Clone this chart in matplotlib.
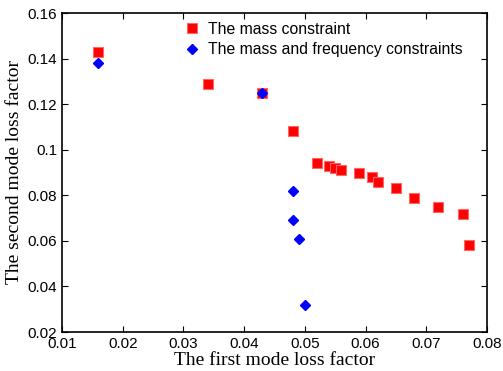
import matplotlib
matplotlib.use("Agg")
import matplotlib.pyplot as plt

mass_x = [0.016, 0.034, 0.043, 0.048, 0.052, 0.054, 0.055, 0.056, 0.059, 0.061, 0.062, 0.065, 0.068, 0.072, 0.076, 0.077]
mass_y = [0.143, 0.129, 0.125, 0.108, 0.094, 0.093, 0.092, 0.091, 0.090, 0.088, 0.086, 0.083, 0.079, 0.075, 0.072, 0.058]
freq_x = [0.016, 0.043, 0.048, 0.048, 0.049, 0.050]
freq_y = [0.138, 0.125, 0.082, 0.069, 0.061, 0.032]

xticks = [0.01, 0.02, 0.03, 0.04, 0.05, 0.06, 0.07, 0.08]
yticks = [0.02, 0.04, 0.06, 0.08, 0.1, 0.12, 0.14, 0.16]
xticklabels = ['0.01', '0.02', '0.03', '0.04', '0.05', '0.06', '0.07', '0.08']
yticklabels = ['0.02', '0.04', '0.06', '0.08', '0.1', '0.12', '0.14', '0.16']

fig = plt.figure(figsize=(5.03, 3.71), dpi=100)
ax = fig.add_axes([62/503, 1-332/371, 425/503, 319/371])

ax.plot(mass_x, mass_y, linestyle='none', marker='s', markersize=6.5,
        markerfacecolor='#ff0000', markeredgecolor='#ff6666', markeredgewidth=0.8,
        label='The mass constraint')
ax.plot(freq_x, freq_y, linestyle='none', marker='D', markersize=5,
        markerfacecolor='#0000ff', markeredgecolor='#0000ff',
        label='The mass and frequency constraints')

ax.set_xlim(0.01, 0.08)
ax.set_ylim(0.02, 0.16)
ax.set_xticks(xticks)
ax.set_xticklabels(xticklabels)
ax.set_yticks(yticks)
ax.set_yticklabels(yticklabels)
ax.tick_params(direction='in', top=True, right=True, length=4, width=0.8,
               labelsize=11)
for lab in ax.get_xticklabels() + ax.get_yticklabels():
    lab.set_fontfamily('Liberation Sans')
for s in ax.spines.values():
    s.set_linewidth(1.2)

ax.set_xlabel('The first mode loss factor', fontfamily='Liberation Serif',
              fontsize=14, labelpad=1)
ax.set_ylabel('The second mode loss factor', fontfamily='Liberation Serif',
              fontsize=14, labelpad=3)

leg = ax.legend(loc='upper left', bbox_to_anchor=(0.268, 1.0), frameon=False,
                prop={'family': 'Liberation Sans', 'size': 11.3},
                handlelength=1.0, handletextpad=0.5, labelspacing=0.35,
                borderaxespad=0.15)

fig.savefig('out.png', dpi=100)
